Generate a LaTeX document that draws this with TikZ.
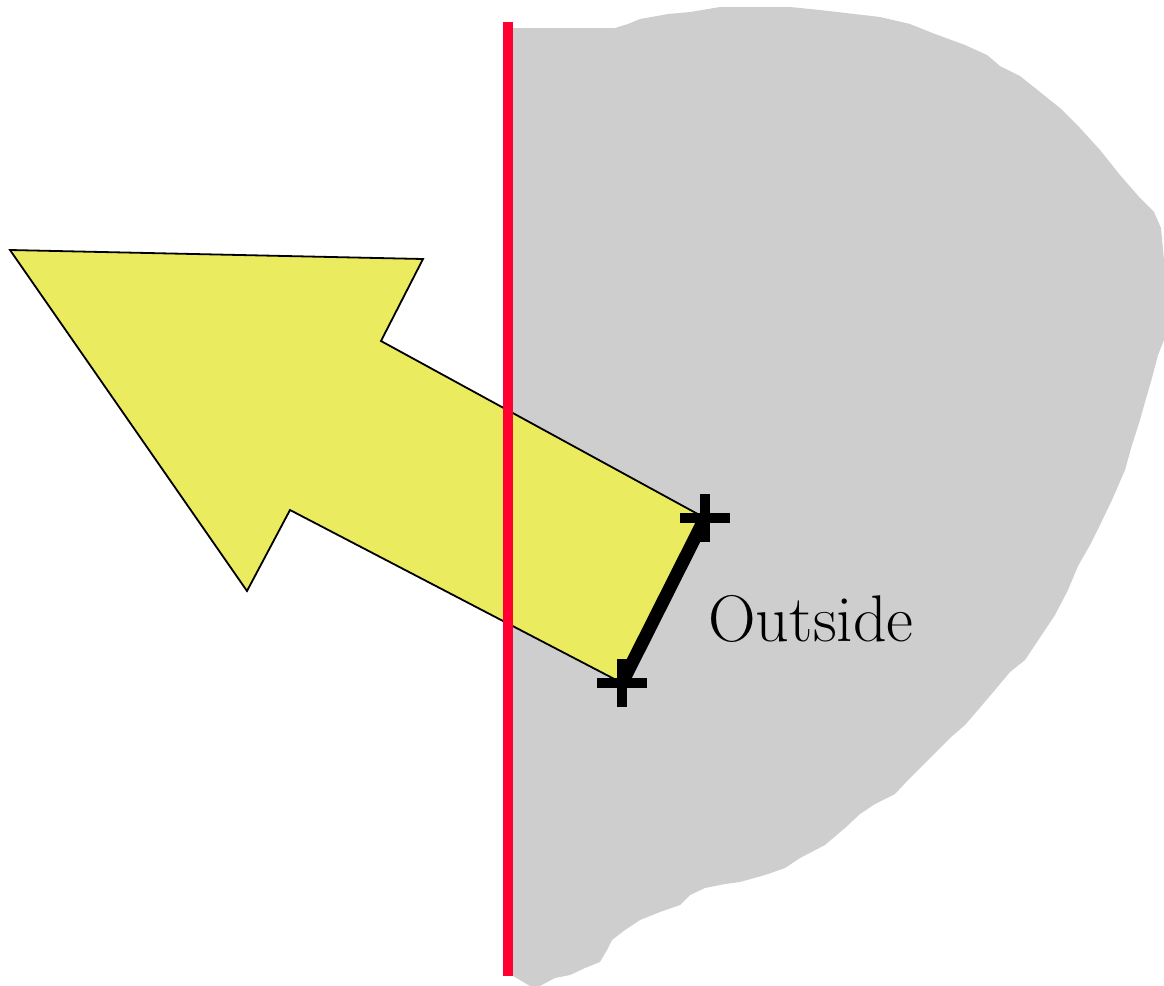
\documentclass[tikz,border=0pt]{standalone}
\usepackage{tikz}

\definecolor{blobgray}{HTML}{CECECE}
\definecolor{wallred}{HTML}{FF0030}
\definecolor{arrowyellow}{HTML}{EAEB5E}

\begin{document}
\begin{tikzpicture}[
x=0.5pt,
y=-0.5pt,
blob/.style={
fill=blobgray,
draw=none
},
wall/.style={
draw=wallred,
line width=5pt
},
shape arrow/.style={
fill=arrowyellow,
draw=black,
line width=0.9pt,
line join=miter
},
edge/.style={
line width=6.5pt
},
cross/.pic={
\draw[line width=5pt] (-25,0) -- (25,0);
\draw[line width=5pt] (0,-24) -- (0,24);
}
]

\useasboundingbox (0,0) rectangle (1164,986);

% region outside
\fill[blob] (513,28) -- (615,28) -- (628,24) -- (640,19) -- (668,14) -- (690,12)
-- (720,7) -- (790,7) -- (820,10) -- (880,17) -- (910,24) -- (935,34)
-- (965,45) -- (987,55) -- (1000,66) -- (1020,76) -- (1040,92) -- (1060,108)
-- (1080,128) -- (1100,150) -- (1120,175) -- (1140,198) -- (1154,212)
-- (1161,228) -- (1164,260) -- (1164,340) -- (1158,355) -- (1152,378)
-- (1145,402) -- (1140,420) -- (1132,445) -- (1125,470) -- (1112,500)
-- (1100,525) -- (1090,545) -- (1078,566) -- (1068,590) -- (1055,615)
-- (1045,630) -- (1035,645) -- (1025,660) -- (1010,672) -- (995,690)
-- (978,710) -- (965,725) -- (950,738) -- (930,758) -- (910,778)
-- (895,794) -- (875,804) -- (860,814) -- (845,828) -- (825,845)
-- (800,858) -- (785,868) -- (765,875) -- (740,882) -- (725,884)
-- (705,888) -- (690,895) -- (680,905) -- (660,912) -- (640,920)
-- (625,930) -- (612,940) -- (607,950) -- (600,962) -- (585,968)
-- (570,975) -- (555,978) -- (540,986) -- (530,986) -- (513,976) -- cycle;

% arrow
\coordinate (top) at (705,518);
\coordinate (bottom) at (622,683);
\filldraw[shape arrow] (10,250) -- (423,259) -- (381,341) -- (top)
-- (bottom) -- (290,510) -- (247,591) -- cycle;

% wall
\draw[wall] (508,22) -- (508,976);

% edge and end points
\draw[edge] (top) -- (bottom);
\pic at (top) {cross};
\pic at (bottom) {cross};

\node[anchor=base west,inner sep=0pt,font=\fontsize{33}{38}\selectfont] (label) at (708,641) {Outside};

\end{tikzpicture}
\end{document}
